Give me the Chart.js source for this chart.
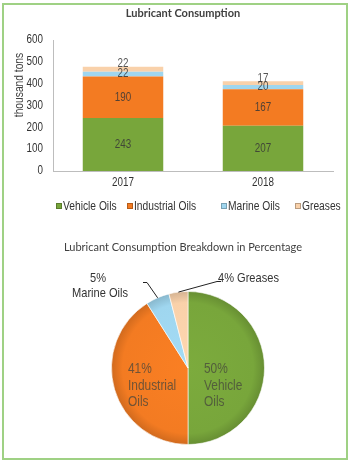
<!DOCTYPE html>
<html><head><meta charset="utf-8">
<script src="https://cdn.jsdelivr.net/npm/chart.js@4/dist/chart.umd.min.js"></script>
<style>
html,body{margin:0;padding:0;background:#fff;}
#wrap{position:relative;width:350px;height:463px;overflow:hidden;background:#fff}
#frame{position:absolute;left:2px;top:3px;width:346px;height:457px;border:2px solid #9fd184;box-sizing:border-box;pointer-events:none}
#bar{position:absolute;left:0;top:0}
#pie{position:absolute;left:0;top:230px}
</style></head>
<body>
<div id="wrap">
<canvas id="bar" width="350" height="230"></canvas>
<canvas id="pie" width="350" height="233"></canvas>
<div id="frame"></div>
</div>
<script>
// ---- data ----
const categories = ['2017', '2018'];
const seriesNames = ['Vehicle Oils', 'Industrial Oils', 'Marine Oils', 'Greases'];
const vehicleOils = [243, 207];
const industrialOils = [190, 167];
const marineOils = [22, 20];
const greases = [22, 17];
const yTicks = [0, 100, 200, 300, 400, 500, 600];
const pieLabels = ['Vehicle Oils', 'Industrial Oils', 'Marine Oils', 'Greases'];
const pieShares = [50, 41, 5, 4];
const barTitle = 'Lubricant Consumption';
const pieTitle = 'Lubricant Consumption Breakdown in Percentage';
const yTitle = 'thousand tons';

// ---- styles ----
const colors = ['#78a63b', '#f37b22', '#9fd6ef', '#f9d1aa'];
const SANS = '"Liberation Sans",Arial,sans-serif';
const TITLEF = 'Lato,"Open Sans",sans-serif';
const SX = 0.82; // condensed look

const seriesData = [vehicleOils, industrialOils, marineOils, greases];

function narrow(ctx, text, x, y, size, align, color) {
  ctx.save();
  ctx.translate(x, y);
  ctx.scale(SX, 1);
  ctx.font = size + 'px ' + SANS;
  ctx.textAlign = align || 'center';
  ctx.textBaseline = 'middle';
  if (color) ctx.fillStyle = color;
  ctx.fillText(text, 0, 0);
  ctx.restore();
}

const barPlugin = {
  id: 'barDecor',
  afterDraw(chart) {
    const ctx = chart.ctx;
    ctx.save();
    // title
    ctx.fillStyle = '#404040';
    ctx.font = 'bold 11px ' + TITLEF;
    ctx.textAlign = 'center';
    ctx.textBaseline = 'middle';
    ctx.fillText(barTitle, 183, 13);
    // y title
    ctx.save();
    ctx.translate(20, 85);
    ctx.rotate(-Math.PI / 2);
    narrow(ctx, yTitle, 0, 0, 12.5, 'center', '#404040');
    ctx.restore();
    // y ticks
    const ys = chart.scales.y, xs = chart.scales.x;
    yTicks.forEach(v => narrow(ctx, String(v), 43, ys.getPixelForValue(v), 12, 'right', '#333'));
    // x ticks
    categories.forEach((c, i) => narrow(ctx, c, xs.getPixelForTick(i), 183, 12, 'center', '#333'));
    // data labels
    chart.data.datasets.forEach((ds, di) => {
      const meta = chart.getDatasetMeta(di);
      meta.data.forEach((el, i) => {
        let y = (el.y + el.base) / 2;
        if (di === 3) y = el.y - 3;
        narrow(ctx, String(ds.data[i]), el.x, y, 12, 'center', 'rgba(55,55,55,0.85)');
      });
    });
    // legend
    const lx = [56, 127, 221, 295];
    chart.data.datasets.forEach((ds, di) => {
      ctx.fillStyle = ds.backgroundColor;
      ctx.fillRect(lx[di], 203, 6, 6);
      ctx.strokeStyle = 'rgba(0,0,0,0.25)';
      ctx.lineWidth = 1;
      ctx.strokeRect(lx[di] + 0.5, 203.5, 5, 5);
      narrow(ctx, ds.label, lx[di] + 7, 206.5, 12.5, 'left', '#333');
    });
    ctx.restore();
  }
};

new Chart(document.getElementById('bar'), {
  type: 'bar',
  data: {
    labels: categories,
    datasets: seriesNames.map((n, i) => ({
      label: n, data: seriesData[i], backgroundColor: colors[i],
      borderWidth: 0, categoryPercentage: 1, barPercentage: 0.575
    }))
  },
  options: {
    responsive: false, animation: false,
    layout: { padding: { top: 40, right: 17, left: 0, bottom: 0 } },
    plugins: { legend: { display: false }, tooltip: { enabled: false }, title: { display: false } },
    scales: {
      x: {
        stacked: true,
        grid: { display: false },
        border: { display: true, color: '#bdbdbd' },
        ticks: { display: false },
        afterFit(s) { s.height = 59; }
      },
      y: {
        stacked: true, min: 0, max: 600,
        grid: { display: false },
        border: { display: true, color: '#bdbdbd' },
        ticks: { display: false },
        afterBuildTicks(s) { s.ticks = yTicks.map(v => ({ value: v })); },
        afterFit(s) { s.width = 53; }
      }
    }
  },
  plugins: [barPlugin]
});

function shade(hex, f) {
  const n = parseInt(hex.slice(1), 16);
  const r = Math.round(((n >> 16) & 255) * f), g = Math.round(((n >> 8) & 255) * f), b = Math.round((n & 255) * f);
  return 'rgb(' + Math.min(255, r) + ',' + Math.min(255, g) + ',' + Math.min(255, b) + ')';
}

const piePlugin = {
  id: 'pieDecor',
  afterDraw(chart) {
    const ctx = chart.ctx;
    ctx.save();
    ctx.fillStyle = '#404040';
    ctx.font = '11px ' + TITLEF;
    ctx.textAlign = 'center';
    ctx.textBaseline = 'middle';
    ctx.fillText(pieTitle, 183, 17);

    const meta = chart.getDatasetMeta(0);
    const edge = (idx) => {
      const a = meta.data[idx];
      const ang = (a.startAngle + a.endAngle) / 2;
      return [a.x + Math.cos(ang) * a.outerRadius, a.y + Math.sin(ang) * a.outerRadius];
    };
    // leader lines
    ctx.strokeStyle = '#222';
    ctx.lineWidth = 1;
    let p = edge(2);
    ctx.beginPath();
    ctx.moveTo(p[0], p[1]); ctx.lineTo(147, 52.5); ctx.lineTo(143, 52.5); ctx.stroke();
    p = edge(3);
    ctx.beginPath();
    ctx.moveTo(p[0], p[1]); ctx.lineTo(217, 51.5); ctx.lineTo(221, 51.5); ctx.stroke();

    // outer labels
    narrow(ctx, pieShares[2] + '%', 98, 48, 13.5, 'center', '#333');
    narrow(ctx, pieLabels[2], 100, 63, 13.5, 'center', '#333');
    narrow(ctx, pieShares[3] + '% ' + pieLabels[3], 218, 48, 13.5, 'left', '#333');

    // inner labels
    const inner = 'rgba(70,70,60,0.75)';
    const ind = pieLabels[1].split(' ');
    narrow(ctx, pieShares[1] + '%', 128, 139, 14.5, 'left', inner);
    narrow(ctx, ind[0], 128, 156, 14.5, 'left', inner);
    narrow(ctx, ind[1], 128, 172, 14.5, 'left', inner);
    const veh = pieLabels[0].split(' ');
    narrow(ctx, pieShares[0] + '%', 204, 139, 14.5, 'left', inner);
    narrow(ctx, veh[0], 204, 156, 14.5, 'left', inner);
    narrow(ctx, veh[1], 204, 172, 14.5, 'left', inner);
    ctx.restore();
  }
};

new Chart(document.getElementById('pie'), {
  type: 'pie',
  data: {
    labels: pieLabels,
    datasets: [{
      data: pieShares,
      backgroundColor(c) {
        const base = colors[c.dataIndex];
        const ca = c.chart.chartArea;
        if (!ca) return base;
        const cx = (ca.left + ca.right) / 2, cy = (ca.top + ca.bottom) / 2, r = Math.min(ca.right - ca.left, ca.bottom - ca.top) / 2;
        const g = c.chart.ctx.createRadialGradient(cx, cy, 0, cx, cy, r);
        g.addColorStop(0, shade(base, 1.03));
        g.addColorStop(0.85, base);
        g.addColorStop(1, shade(base, 0.85));
        return g;
      },
      borderColor: 'rgba(255,255,255,0.6)', borderWidth: 1
    }]
  },
  options: {
    responsive: false, animation: false,
    layout: { padding: { left: 111, right: 85, top: 61, bottom: 18 } },
    plugins: { legend: { display: false }, tooltip: { enabled: false }, title: { display: false } }
  },
  plugins: [piePlugin]
});
</script>
</body></html>
